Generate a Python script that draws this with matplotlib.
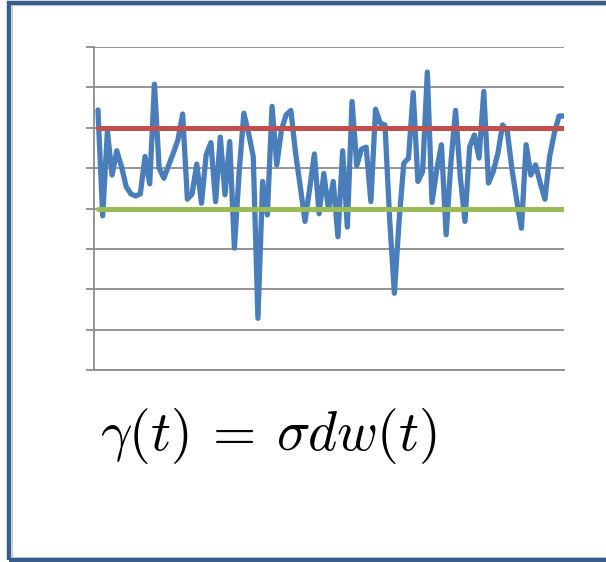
import matplotlib
matplotlib.use("Agg")
import matplotlib.pyplot as plt
from matplotlib.patches import Rectangle
import numpy as np

# Simulated noise path gamma(t) = sigma * dw(t), with two reference levels
noise = [
    6.44, 3.82, 5.91, 4.83, 5.43, 5.04, 4.54, 4.36, 4.31, 4.36,
    5.29, 4.61, 7.08, 5.00, 4.75, 5.06, 5.37, 5.70, 6.34, 4.23,
    4.36, 5.10, 4.13, 5.33, 5.63, 4.17, 5.77, 4.34, 5.66, 3.02,
    4.89, 6.36, 5.87, 5.29, 1.28, 4.67, 3.84, 6.53, 5.08, 5.95,
    6.32, 6.43, 5.37, 4.54, 3.68, 4.50, 5.35, 3.87, 4.87, 3.97,
    4.67, 3.30, 5.43, 3.54, 6.65, 5.06, 5.47, 5.52, 4.17, 6.46,
    6.11, 6.07, 3.72, 1.90, 3.69, 5.12, 5.25, 6.87, 4.67, 4.91,
    7.38, 4.15, 4.96, 5.58, 3.35, 5.12, 6.43, 4.79, 3.68, 5.53,
    5.82, 5.25, 6.90, 4.63, 4.91, 5.37, 6.07, 5.91, 4.96, 4.21,
    3.51, 5.58, 4.83, 5.08, 4.63, 4.23, 5.29, 5.87, 6.29, 6.29,
]
upper_level = 6.0
lower_level = 4.0
y_ticks = [0, 1, 2, 3, 4, 5, 6, 7, 8]

W, H = 606, 562
fig = plt.figure(figsize=(W / 100, H / 100), dpi=100)
fig.patch.set_facecolor("white")
plt.rcParams["mathtext.fontset"] = "cm"

# Framed slide-like border (open to the right)
border = Rectangle((9 / W, 2.5 / H), 1.2, 1 - 5 / H, transform=fig.transFigure,
                   fill=False, edgecolor="#3A5C8A", linewidth=3.2, clip_on=False)
fig.add_artist(border)
inner = Rectangle((11.8 / W, 5.3 / H), 1.2, 1 - 10.6 / H, transform=fig.transFigure,
                  fill=False, edgecolor="#B5C4D8", linewidth=0.7, clip_on=False)
fig.add_artist(inner)

ax = fig.add_axes([93.5 / W, 1 - 370 / H, (564 - 93.5) / W, (370 - 47) / H])
ax.set_facecolor("none")

t = np.arange(len(noise))
grid_c = "#8C8C8C"
ax.plot(t, noise, color="#4A7EBB", lw=3.8, solid_joinstyle="round",
        solid_capstyle="round", zorder=3)
ax.plot([t[0], t[-1]], [upper_level, upper_level], color="#C0504D", lw=3.6,
        solid_capstyle="round", zorder=4)
ax.plot([t[0], t[-1]], [lower_level, lower_level], color="#9BBB59", lw=3.6,
        solid_capstyle="round", zorder=4)

ax.set_xlim(-0.95, 99.05)
ax.set_ylim(y_ticks[0], y_ticks[-1])
ax.set_yticks(y_ticks)
ax.set_xticks([])
ax.yaxis.grid(True, color=grid_c, lw=1.3)
ax.set_axisbelow(True)
ax.tick_params(axis="y", length=6, width=1.3, color=grid_c, labelleft=False)
for side in ("top", "right"):
    ax.spines[side].set_visible(False)
for side in ("left", "bottom"):
    ax.spines[side].set_color(grid_c)
    ax.spines[side].set_linewidth(1.3)

fig.text(100 / W, 1 - 436 / H, r"$\gamma(t)\:=\:\sigma dw(t)$", fontsize=40,
         ha="left", va="center")

fig.savefig("out.png", dpi=100)
